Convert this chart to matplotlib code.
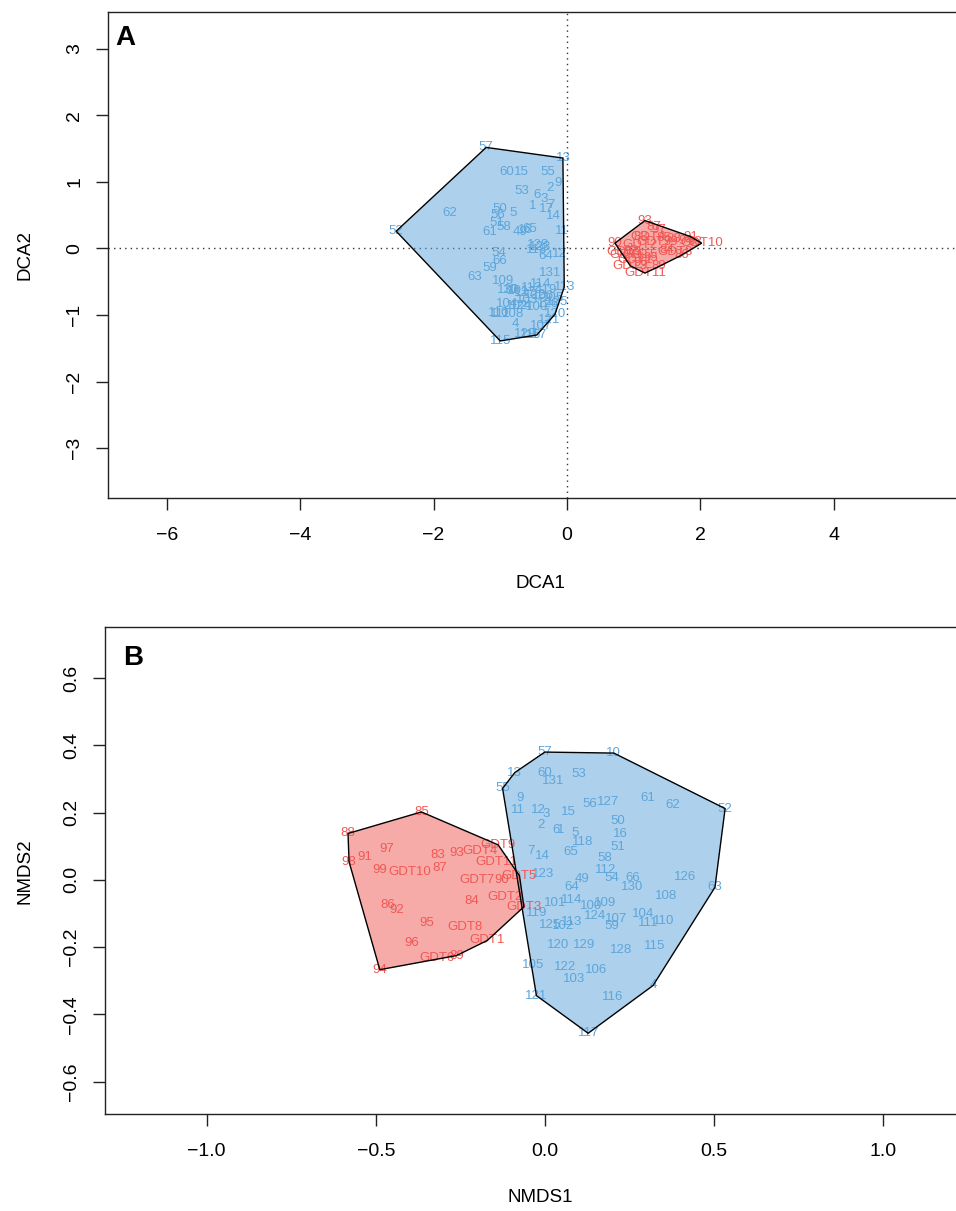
import matplotlib
matplotlib.use("Agg")
import matplotlib.pyplot as plt
from matplotlib.patches import Polygon

plt.rcParams['font.family'] = ['Liberation Sans', 'DejaVu Sans']

BLUE = '#5DA5DA'
RED = '#F15854'

# ---------------- Panel A (DCA) data ----------------
dca_blue_labels = ['57', '13', '60', '15', '55', '9', '2', '53', '6', '3', '7', '1', '17', '14',
                   '62', '50', '56', '5', '51', '58', '61', '49', '16', '65', '11', '52',
                   '128', '118', '123', '64', '12', '54', '66', '59', '63', '131', '109', '113',
                   '130', '101', '112', '114', '127', '122', '119', '106', '104', '124', '102',
                   '100', '110', '111', '108', '126', '105', '125', '120', '121', '4', '107',
                   '129', '116', '117', '115', '103', '10']
dca_blue_x = [-1.21, -0.06, -0.90, -0.68, -0.28, -0.13, -0.25, -0.68, -0.45, -0.34, -0.24, -0.51, -0.31, -0.21,
              -1.76, -1.00, -1.03, -0.80, -1.05, -0.94, -1.16, -0.70, -0.62, -0.56, -0.08, -2.56,
              -0.43, -0.45, -0.40, -0.31, -0.12, -1.02, -1.00, -1.15, -1.38, -0.25, -0.95, -0.04,
              -0.88, -0.73, -0.53, -0.40, -0.63, -0.48, -0.30, -0.36, -0.90, -0.68, -0.75,
              -0.45, -1.03, -1.00, -0.80, -0.28, -0.20, -0.14, -0.18, -0.27, -0.78, -0.38,
              -0.63, -0.55, -0.45, -1.00, -0.60, -0.85]
dca_blue_y = [1.52, 1.36, 1.15, 1.15, 1.15, 0.98, 0.91, 0.87, 0.81, 0.75, 0.66, 0.64, 0.59, 0.49,
              0.54, 0.59, 0.50, 0.53, 0.39, 0.32, 0.25, 0.25, 0.28, 0.30, 0.26, 0.26,
              0.06, -0.02, 0.02, -0.12, -0.09, -0.07, -0.19, -0.29, -0.43, -0.37, -0.49, -0.58,
              -0.63, -0.64, -0.59, -0.54, -0.67, -0.70, -0.62, -0.72, -0.84, -0.87, -0.86,
              -0.88, -0.97, -0.98, -0.99, -0.84, -0.75, -0.80, -0.99, -1.07, -1.14, -1.17,
              -1.28, -1.30, -1.30, -1.39, -0.78, -0.62]

dca_red_labels = ['90', '93', '87', '97', '83', 'GDT4', '85', '88', '91', '94', '98', 'GDT10',
                  '99', 'GDT7', 'GDT2', 'GDT9', 'GDT6', '92', 'GDT5', '95', 'GDT8', '86', '84',
                  'GDT3', '96', 'GDT1', '89', 'GDT11']
dca_red_x = [0.72, 1.17, 1.30, 1.38, 1.10, 1.22, 1.45, 1.60, 1.85, 1.78, 1.92, 2.02,
             1.55, 1.30, 1.10, 0.86, 0.90, 0.95, 1.10, 1.25, 1.62, 1.72, 1.50,
             0.95, 1.10, 1.02, 1.38, 1.17]
dca_red_y = [0.08, 0.42, 0.33, 0.28, 0.18, 0.17, 0.16, 0.14, 0.18, 0.12, 0.10, 0.08,
             0.10, 0.10, 0.05, -0.06, -0.10, -0.04, -0.10, -0.14, -0.06, -0.10, -0.02,
             -0.26, -0.22, -0.18, -0.27, -0.37]

# ---------------- Panel B (NMDS) data ----------------
nmds_blue_labels = ['57', '10', '13', '55', '60', '131', '53', '9', '11', '12', '3', '15', '56',
                    '127', '61', '62', '52', '50', '2', '6', '1', '5', '16', '118', '51', '7',
                    '14', '65', '58', '112', '123', '49', '54', '66', '126', '63', '64', '130',
                    '108', '101', '114', '100', '109', '119', '113', '124', '107', '104', '111',
                    '110', '125', '102', '59', '120', '129', '128', '115', '105', '122', '106',
                    '103', '4', '116', '121', '117']
nmds_blue_x = [0.000, 0.204, -0.089, -0.125, 0.000, 0.025, 0.101, -0.074, -0.079, -0.020, 0.003, 0.069, 0.133,
               0.187, 0.303, 0.378, 0.533, 0.215, -0.010, 0.032, 0.048, 0.089, 0.224, 0.113, 0.217, -0.042,
               -0.007, 0.076, 0.176, 0.180, -0.005, 0.111, 0.199, 0.259, 0.414, 0.503, 0.079, 0.259,
               0.358, 0.030, 0.079, 0.138, 0.178, -0.025, 0.079, 0.148, 0.212, 0.291, 0.306,
               0.350, 0.015, 0.054, 0.197, 0.039, 0.115, 0.224, 0.325, -0.035, 0.059, 0.151,
               0.086, 0.320, 0.200, -0.025, 0.128]
nmds_blue_y = [0.380, 0.377, 0.319, 0.272, 0.318, 0.293, 0.316, 0.242, 0.207, 0.207, 0.196, 0.202, 0.225,
               0.232, 0.244, 0.224, 0.212, 0.176, 0.163, 0.148, 0.148, 0.138, 0.135, 0.112, 0.097, 0.087,
               0.071, 0.082, 0.064, 0.028, 0.017, 0.003, 0.005, 0.005, 0.010, -0.022, -0.020, -0.022,
               -0.049, -0.069, -0.061, -0.079, -0.069, -0.099, -0.124, -0.107, -0.116, -0.101, -0.128,
               -0.121, -0.133, -0.136, -0.138, -0.193, -0.193, -0.207, -0.196, -0.252, -0.259, -0.267,
               -0.295, -0.314, -0.348, -0.344, -0.456]

nmds_red_labels = ['85', '88', '98', '91', '97', '83', '93', 'GDT4', 'GDT9', 'GDT11', '99', 'GDT10',
                   '87', 'GDT7', '90', 'GDT5', '86', '92', '84', 'GDT2', 'GDT3', '95', 'GDT8',
                   'GDT1', '96', 'GDT6', '89', '94']
nmds_red_x = [-0.365, -0.582, -0.579, -0.533, -0.468, -0.316, -0.261, -0.192, -0.138, -0.143, -0.488, -0.399,
              -0.311, -0.202, -0.128, -0.075, -0.464, -0.439, -0.217, -0.118, -0.062, -0.350, -0.237,
              -0.170, -0.394, -0.320, -0.261, -0.488]
nmds_red_y = [0.202, 0.138, 0.054, 0.067, 0.091, 0.074, 0.081, 0.087, 0.104, 0.054, 0.028, 0.023,
              0.034, 0.000, 0.000, 0.012, -0.074, -0.089, -0.064, -0.051, -0.080, -0.128, -0.141,
              -0.180, -0.188, -0.232, -0.225, -0.267]


def convex_hull(xs, ys):
    pts = sorted(set(zip(xs, ys)))
    if len(pts) < 3:
        return pts

    def cross(o, a, b):
        return (a[0] - o[0]) * (b[1] - o[1]) - (a[1] - o[1]) * (b[0] - o[0])
    lower = []
    for p in pts:
        while len(lower) >= 2 and cross(lower[-2], lower[-1], p) <= 0:
            lower.pop()
        lower.append(p)
    upper = []
    for p in reversed(pts):
        while len(upper) >= 2 and cross(upper[-2], upper[-1], p) <= 0:
            upper.pop()
        upper.append(p)
    return lower[:-1] + upper[:-1]


def draw_group(ax, xs, ys, labels, color):
    hull = convex_hull(xs, ys)
    ax.add_patch(Polygon(hull, closed=True, facecolor=color, alpha=0.5,
                         edgecolor='none', zorder=1))
    ax.add_patch(Polygon(hull, closed=True, facecolor='none',
                         edgecolor='black', linewidth=1.0, zorder=3))
    for x, y, t in zip(xs, ys, labels):
        ax.text(x, y, t, color=color, fontsize=9.5, ha='center', va='center', zorder=2)


W, H = 956, 1211
fig = plt.figure(figsize=(W / 100, H / 100), dpi=100)


def px_axes(left, right, top, bottom):
    return fig.add_axes([left / W, (H - bottom) / H, (right - left) / W, (bottom - top) / H])


def style(ax):
    for s in ax.spines.values():
        s.set_linewidth(1.0)
        s.set_color('#222222')
    ax.tick_params(direction='out', length=8.9, width=1.0, labelsize=14,
                   color='#222222')
    ax.tick_params(axis='x', pad=12)
    ax.tick_params(axis='y', pad=9, labelrotation=90)
    for lab in ax.get_yticklabels():
        lab.set_va('center')


# Panel A
axA = px_axes(108, 972, 12, 497.7)
axA.set_xlim(-6.880, 6.073)
axA.set_ylim(-3.747, 3.556)
axA.axhline(0, color='#333333', linestyle=(0, (1, 3)), linewidth=1.0, zorder=0)
axA.axvline(0, color='#333333', linestyle=(0, (1, 3)), linewidth=1.0, zorder=0)
draw_group(axA, dca_blue_x, dca_blue_y, dca_blue_labels, BLUE)
draw_group(axA, dca_red_x, dca_red_y, dca_red_labels, RED)
axA.set_xticks([-6, -4, -2, 0, 2, 4])
axA.set_xticklabels(['\u22126', '\u22124', '\u22122', '0', '2', '4'])
axA.set_yticks([-3, -2, -1, 0, 1, 2, 3])
axA.set_yticklabels(['\u22123', '\u22122', '\u22121', '0', '1', '2', '3'])
style(axA)
fig.text(540 / W, 1 - 583 / H, 'DCA1', ha='center', va='center', fontsize=13.5)
fig.text(25 / W, 1 - 255 / H, 'DCA2', ha='center', va='center', fontsize=13.5, rotation=90)
fig.text(125 / W, 1 - 38 / H, 'A', ha='center', va='center', fontsize=20,
         fontweight='bold', family='Liberation Sans')

# Panel B
axB = px_axes(105, 970, 627.3, 1114.3)
axB.set_xlim(-1.3006, 1.2571)
axB.set_ylim(-0.697, 0.751)
draw_group(axB, nmds_blue_x, nmds_blue_y, nmds_blue_labels, BLUE)
draw_group(axB, nmds_red_x, nmds_red_y, nmds_red_labels, RED)
axB.set_xticks([-1.0, -0.5, 0.0, 0.5, 1.0])
axB.set_xticklabels(['\u22121.0', '\u22120.5', '0.0', '0.5', '1.0'])
axB.set_yticks([-0.6, -0.4, -0.2, 0.0, 0.2, 0.4, 0.6])
axB.set_yticklabels(['\u22120.6', '\u22120.4', '\u22120.2', '0.0', '0.2', '0.4', '0.6'])
style(axB)
fig.text(540 / W, 1 - 1197 / H, 'NMDS1', ha='center', va='center', fontsize=13.5)
fig.text(25 / W, 1 - 871 / H, 'NMDS2', ha='center', va='center', fontsize=13.5, rotation=90)
fig.text(133 / W, 1 - 658 / H, 'B', ha='center', va='center', fontsize=20,
         fontweight='bold', family='Liberation Sans')

fig.savefig('out.png', dpi=100)
